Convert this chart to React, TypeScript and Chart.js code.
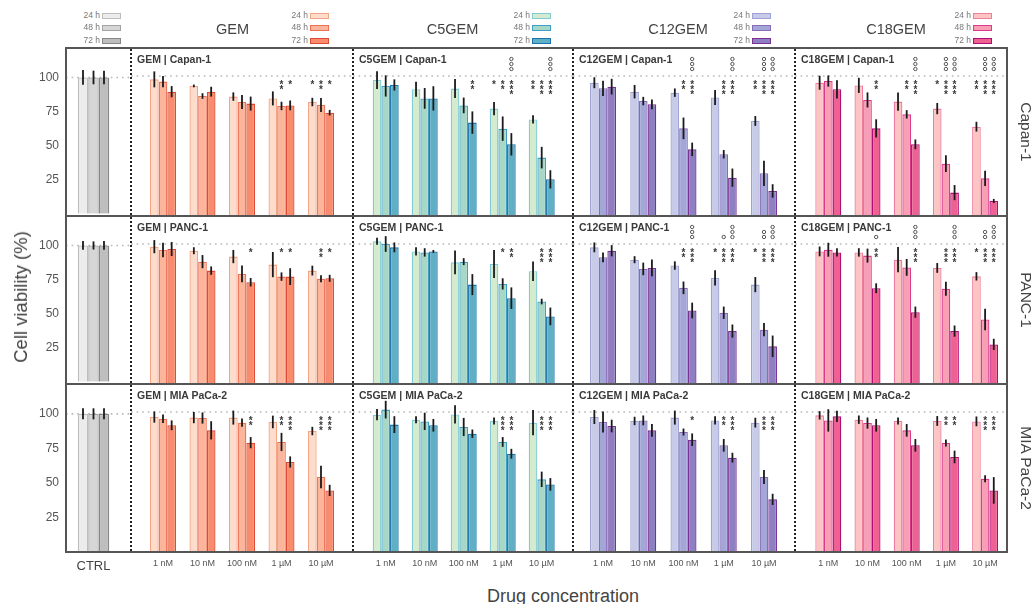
import React, { useEffect, useRef } from 'react';
import { Chart, registerables } from 'chart.js';

Chart.register(...registerables);

// ---------------- data ----------------
const concentrations = ['1 nM', '10 nM', '100 nM', '1 µM', '10 µM'];
const ctrlLabels = ['CTRL'];
const timePoints = ['24 h', '48 h', '72 h'];
const drugs = ['GEM', 'C5GEM', 'C12GEM', 'C18GEM'];
const cellLines = ['Capan-1', 'PANC-1', 'MIA PaCa-2'];
const yTickValues = [25, 50, 75, 100];
const referenceValue = 100;

// control (one value per time point)
const CTRL_MEAN = [100, 100, 100];
const CTRL_CAPAN1_SD = [5.4, 5.0, 5.0];
const CTRL_PANC1_SD = [3.2, 3.0, 3.2];
const CTRL_MIAPACA2_SD = [4.0, 4.0, 4.0];

const NONE = [[0, 0, 0, 0, 0], [0, 0, 0, 0, 0], [0, 0, 0, 0, 0]];

// rows = 24 h, 48 h, 72 h ; columns = concentrations
const GEM_CAPAN1 = [[97.6, 92.9, 85.3, 84.0, 81.4], [96.0, 85.7, 81.4, 78.6, 79.3], [88.8, 88.8, 80.3, 79.0, 73.8]];
const GEM_CAPAN1_SD = [[5.7, 1.0, 3.0, 5.0, 3.0], [4.0, 2.0, 5.0, 3.0, 5.0], [4.0, 3.5, 5.0, 3.5, 2.0]];
const GEM_CAPAN1_STARS = [[0, 0, 0, 0, 1], [0, 0, 0, 2, 2], [0, 0, 0, 1, 1]];

const GEM_PANC1 = [[98.1, 95.2, 91.0, 85.3, 81.0], [95.7, 87.4, 78.6, 76.7, 75.1], [96.4, 81.0, 72.7, 76.7, 75.5]];
const GEM_PANC1_SD = [[4.7, 2.5, 4.7, 9.0, 3.5], [5.2, 4.7, 6.0, 3.0, 2.5], [5.0, 3.0, 3.0, 6.0, 2.5]];
const GEM_PANC1_STARS = [[0, 0, 0, 0, 0], [0, 0, 0, 1, 2], [0, 0, 1, 1, 1]];

const GEM_MIAPACA2 = [[96.4, 96.0, 96.0, 92.9, 86.4], [95.2, 95.7, 92.4, 78.6, 53.6], [90.5, 86.9, 78.1, 64.3, 44.0]];
const GEM_MIAPACA2_SD = [[4.0, 4.0, 5.0, 4.5, 3.0], [3.0, 4.0, 3.0, 6.5, 8.0], [3.5, 6.5, 4.0, 4.0, 4.0]];
const GEM_MIAPACA2_STARS = [[0, 0, 0, 0, 0], [0, 0, 0, 2, 3], [0, 0, 2, 3, 3]];

const C5GEM_CAPAN1 = [[97.1, 90.5, 91.0, 76.7, 69.0], [92.9, 84.0, 79.0, 62.4, 41.7], [93.6, 84.0, 66.7, 51.2, 26.2]];
const C5GEM_CAPAN1_SD = [[6.3, 5.4, 6.8, 4.8, 3.0], [7.6, 7.4, 5.6, 8.7, 7.7], [4.0, 8.7, 8.0, 8.0, 6.5]];
const C5GEM_CAPAN1_STARS = [[0, 0, 0, 1, 2], [0, 0, 0, 2, 3], [0, 0, 2, 3, 3]];
const C5GEM_CAPAN1_CIRCLES = [[0, 0, 0, 0, 0], [0, 0, 0, 0, 0], [0, 0, 0, 3, 3]];

const C5GEM_PANC1 = [[101.9, 94.7, 86.9, 85.8, 80.5], [100.0, 94.0, 87.4, 71.5, 58.9], [97.6, 94.7, 71.0, 61.3, 48.3]];
const C5GEM_PANC1_SD = [[2.5, 3.0, 8.5, 10.0, 7.0], [5.6, 3.0, 2.5, 4.0, 2.0], [3.5, 1.0, 7.5, 7.7, 6.3]];
const C5GEM_PANC1_STARS = [[0, 0, 0, 0, 0], [0, 0, 0, 1, 3], [0, 0, 0, 2, 3]];

const C5GEM_MIAPACA2 = [[98.1, 94.5, 98.3, 93.6, 92.4], [101.7, 93.3, 89.3, 78.6, 51.9], [91.0, 90.5, 84.5, 70.2, 48.3]];
const C5GEM_MIAPACA2_SD = [[4.0, 2.5, 6.5, 2.5, 9.0], [6.3, 6.2, 6.5, 3.5, 5.5], [6.0, 4.5, 3.0, 3.5, 4.5]];
const C5GEM_MIAPACA2_STARS = [[0, 0, 0, 0, 0], [0, 0, 0, 3, 3], [0, 0, 0, 3, 3]];

const C12GEM_CAPAN1 = [[95.2, 88.8, 88.1, 84.6, 67.9], [91.2, 82.1, 62.6, 44.1, 30.5], [92.4, 79.8, 47.6, 27.4, 17.9]];
const C12GEM_CAPAN1_SD = [[3.9, 4.8, 3.0, 5.4, 3.5], [5.4, 3.0, 7.7, 3.0, 9.0], [5.6, 3.5, 4.8, 6.5, 4.8]];
const C12GEM_CAPAN1_STARS = [[0, 0, 0, 0, 2], [0, 0, 2, 3, 3], [0, 0, 3, 3, 3]];
const C12GEM_CAPAN1_CIRCLES = [[0, 0, 0, 0, 0], [0, 0, 0, 0, 3], [0, 0, 3, 3, 3]];

const C12GEM_PANC1 = [[97.6, 88.8, 84.6, 75.8, 71.0], [90.5, 82.2, 68.7, 50.9, 38.8], [95.2, 82.9, 52.5, 37.8, 26.9]];
const C12GEM_PANC1_SD = [[3.5, 2.5, 3.0, 5.4, 5.4], [3.5, 4.5, 4.5, 4.4, 4.7], [4.0, 6.0, 5.6, 4.7, 7.7]];
const C12GEM_PANC1_STARS = [[0, 0, 0, 1, 1], [0, 0, 2, 3, 3], [0, 0, 3, 3, 3]];
const C12GEM_PANC1_CIRCLES = [[0, 0, 0, 0, 0], [0, 0, 0, 1, 2], [0, 0, 3, 3, 3]];

const C12GEM_MIAPACA2 = [[96.4, 93.6, 96.0, 94.0, 92.4], [92.9, 94.0, 85.7, 76.2, 53.6], [90.0, 86.9, 80.2, 67.4, 37.6]];
const C12GEM_MIAPACA2_SD = [[5.0, 3.0, 5.0, 3.0, 3.5], [7.5, 3.5, 2.5, 4.5, 5.0], [4.5, 4.5, 4.5, 3.5, 4.0]];
const C12GEM_MIAPACA2_STARS = [[0, 0, 0, 0, 0], [0, 0, 0, 2, 3], [0, 0, 1, 3, 3]];

const C18GEM_CAPAN1 = [[95.2, 93.3, 81.7, 76.7, 63.8], [96.4, 82.9, 72.6, 37.4, 26.9], [90.5, 62.6, 51.2, 16.7, 10.7]];
const C18GEM_CAPAN1_SD = [[5.0, 5.4, 6.5, 4.0, 3.5], [4.0, 5.4, 3.0, 6.0, 5.4], [6.5, 6.5, 3.5, 5.4, 1.5]];
const C18GEM_CAPAN1_STARS = [[0, 0, 0, 1, 2], [0, 0, 2, 3, 3], [0, 2, 3, 3, 3]];
const C18GEM_CAPAN1_CIRCLES = [[0, 0, 0, 0, 0], [0, 0, 0, 3, 3], [0, 0, 3, 3, 3]];

const C18GEM_PANC1 = [[94.7, 94.0, 88.8, 82.9, 76.9], [95.9, 91.7, 83.3, 68.0, 46.1], [94.0, 68.4, 51.3, 37.8, 28.3]];
const C18GEM_PANC1_SD = [[3.5, 3.0, 9.0, 3.5, 3.0], [5.0, 5.0, 6.0, 5.0, 7.7], [3.0, 3.5, 4.0, 4.0, 4.0]];
const C18GEM_PANC1_STARS = [[0, 0, 0, 0, 1], [0, 0, 0, 3, 3], [0, 2, 3, 3, 3]];
const C18GEM_PANC1_CIRCLES = [[0, 0, 0, 0, 0], [0, 0, 0, 0, 2], [0, 1, 3, 3, 3]];

const C18GEM_MIAPACA2 = [[97.6, 94.5, 93.6, 93.6, 93.3], [94.0, 92.1, 86.9, 77.9, 52.4], [96.9, 90.5, 76.2, 67.9, 44.0]];
const C18GEM_MIAPACA2_SD = [[3.0, 3.0, 2.5, 3.5, 3.5], [8.0, 4.0, 4.5, 2.5, 2.5], [4.0, 4.5, 4.5, 4.5, 9.5]];
const C18GEM_MIAPACA2_STARS = [[0, 0, 0, 0, 0], [0, 0, 0, 2, 3], [0, 0, 0, 2, 3]];

// table built from the arrays above: [cell line][drug]
const PANEL_TABLE = [
  [
    { mean: GEM_CAPAN1, sd: GEM_CAPAN1_SD, stars: GEM_CAPAN1_STARS, circles: NONE },
    { mean: C5GEM_CAPAN1, sd: C5GEM_CAPAN1_SD, stars: C5GEM_CAPAN1_STARS, circles: C5GEM_CAPAN1_CIRCLES },
    { mean: C12GEM_CAPAN1, sd: C12GEM_CAPAN1_SD, stars: C12GEM_CAPAN1_STARS, circles: C12GEM_CAPAN1_CIRCLES },
    { mean: C18GEM_CAPAN1, sd: C18GEM_CAPAN1_SD, stars: C18GEM_CAPAN1_STARS, circles: C18GEM_CAPAN1_CIRCLES },
  ],
  [
    { mean: GEM_PANC1, sd: GEM_PANC1_SD, stars: GEM_PANC1_STARS, circles: NONE },
    { mean: C5GEM_PANC1, sd: C5GEM_PANC1_SD, stars: C5GEM_PANC1_STARS, circles: NONE },
    { mean: C12GEM_PANC1, sd: C12GEM_PANC1_SD, stars: C12GEM_PANC1_STARS, circles: C12GEM_PANC1_CIRCLES },
    { mean: C18GEM_PANC1, sd: C18GEM_PANC1_SD, stars: C18GEM_PANC1_STARS, circles: C18GEM_PANC1_CIRCLES },
  ],
  [
    { mean: GEM_MIAPACA2, sd: GEM_MIAPACA2_SD, stars: GEM_MIAPACA2_STARS, circles: NONE },
    { mean: C5GEM_MIAPACA2, sd: C5GEM_MIAPACA2_SD, stars: C5GEM_MIAPACA2_STARS, circles: NONE },
    { mean: C12GEM_MIAPACA2, sd: C12GEM_MIAPACA2_SD, stars: C12GEM_MIAPACA2_STARS, circles: NONE },
    { mean: C18GEM_MIAPACA2, sd: C18GEM_MIAPACA2_SD, stars: C18GEM_MIAPACA2_STARS, circles: NONE },
  ],
];
const CTRL_SD_TABLE = [CTRL_CAPAN1_SD, CTRL_PANC1_SD, CTRL_MIAPACA2_SD];

// ---------------- styles / layout ----------------
const FONT = "'Liberation Sans', Arial, Helvetica, sans-serif";
const PALETTES = [
  { fill: ['#ececec', '#d6d6d6', '#bebebe'], border: ['#bdbdbd', '#a3a3a3', '#878787'] }, // CTRL
  { fill: ['#fddccc', '#fbb59b', '#f88c6c'], border: ['#f5a486', '#ee7258', '#dd4b35'] }, // GEM
  { fill: ['#d5ebcd', '#a7d8c5', '#5fb0c4'], border: ['#84cbd8', '#3f9fc7', '#1c72ab'] }, // C5GEM
  { fill: ['#c7cbe8', '#a2a7d7', '#8d7fc1'], border: ['#9fa3d3', '#8a6bb7', '#7a3393'] }, // C12GEM
  { fill: ['#fcc5c4', '#f99fb5', '#ef6093'], border: ['#ee7da0', '#da3a8c', '#ae0f72'] }, // C18GEM
];
const COLS = [66, 131, 353, 573, 795, 1007];
const ROWS = [48, 216, 384, 552];
const INSETS = [[0, 10], [12.25, 12.25], [13.2, 11.8], [9.9, 10.9], [13.7, 2.3]];
const GROUP_WIDTH = 26;
const CTRL_GROUP_WIDTH = 31.5;
const X_AXIS_H = 30;
const V_MARGIN = 12;

const decorPlugin: any = {
  id: 'decor',
  beforeDatasetsDraw(chart: any, _a: any, opts: any) {
    const { ctx, chartArea, scales } = chart;
    const y = scales.y.getPixelForValue(referenceValue);
    ctx.save();
    ctx.strokeStyle = '#b8b8b8';
    ctx.lineWidth = 1.6;
    ctx.setLineDash([1.6, 4]);
    ctx.beginPath();
    ctx.moveTo(chartArea.left - opts.extL, y);
    ctx.lineTo(chartArea.right + opts.extR, y);
    ctx.stroke();
    ctx.restore();
  },
  afterDatasetsDraw(chart: any) {
    const { ctx, scales } = chart;
    const ys = scales.y;
    const y100 = ys.getPixelForValue(referenceValue);
    chart.data.datasets.forEach((ds: any, i: number) => {
      const meta = chart.getDatasetMeta(i);
      meta.data.forEach((bar: any, j: number) => {
        const m = ds.data[j];
        const e = ds.errors[j];
        ctx.save();
        ctx.strokeStyle = '#1a1a1a';
        ctx.lineWidth = 1.8;
        ctx.beginPath();
        ctx.moveTo(bar.x, ys.getPixelForValue(m + e));
        ctx.lineTo(bar.x, ys.getPixelForValue(m - e));
        ctx.stroke();
        const ns = ds.stars ? ds.stars[j] : 0;
        ctx.fillStyle = '#3a3a3a';
        ctx.font = `bold 10px ${FONT}`;
        ctx.textAlign = 'center';
        ctx.textBaseline = 'alphabetic';
        for (let k = 0; k < ns; k++) ctx.fillText('*', bar.x, y100 + 12 + k * 5);
        const nc = ds.circles ? ds.circles[j] : 0;
        ctx.strokeStyle = '#555';
        ctx.lineWidth = 1;
        for (let k = 0; k < nc; k++) {
          ctx.beginPath();
          ctx.arc(bar.x, y100 - 7 - k * 5, 1.7, 0, Math.PI * 2);
          ctx.stroke();
        }
        ctx.restore();
      });
    });
  },
};

type PanelSpec = {
  key: string; row: number; col: number; left: number; top: number; w: number; h: number;
  padL: number; padR: number; padT: number; padB: number; catPct: number;
};

function buildPanels(): PanelSpec[] {
  const out: PanelSpec[] = [];
  for (let r = 0; r < 3; r++) {
    for (let c = 0; c < 5; c++) {
      const x0 = COLS[c], x1 = COLS[c + 1];
      const y0 = ROWS[r], y1 = ROWS[r + 1];
      const bottom = r === 2;
      const left = c === 0 ? 0 : Math.floor(x0 - 3);
      const right = Math.ceil(x1 + 3);
      const top = Math.floor(y0 - V_MARGIN);
      const bot = bottom ? Math.ceil(y1 + X_AXIS_H) : Math.ceil(y1 + V_MARGIN);
      const [iL, iR] = INSETS[c];
      const areaL = x0 + iL, areaR = x1 - iR;
      const padL = c === 0 ? 0 : areaL - left;
      const padR = right - areaR;
      const nCats = c === 0 ? 1 : concentrations.length;
      const catW = (areaR - areaL) / nCats;
      const catPct = (c === 0 ? CTRL_GROUP_WIDTH : GROUP_WIDTH) / catW;
      out.push({
        key: `${r}-${c}`, row: r, col: c, left, top, w: right - left, h: bot - top,
        padL, padR, padT: y0 - top, padB: bottom ? 0 : bot - y1, catPct,
      });
    }
  }
  return out;
}
const PANELS = buildPanels();

function makeConfig(p: PanelSpec): any {
  const isCtrl = p.col === 0;
  const isBottom = p.row === 2;
  const pal = PALETTES[p.col];
  const d = isCtrl ? null : PANEL_TABLE[p.row][p.col - 1];
  const datasets = timePoints.map((t, ti) => ({
    label: t,
    data: isCtrl ? [CTRL_MEAN[ti]] : d!.mean[ti],
    errors: isCtrl ? [CTRL_SD_TABLE[p.row][ti]] : d!.sd[ti],
    stars: isCtrl ? null : d!.stars[ti],
    circles: isCtrl ? null : d!.circles[ti],
    backgroundColor: pal.fill[ti],
    borderColor: pal.border[ti],
    borderWidth: 1.3,
    categoryPercentage: p.catPct,
    barPercentage: 1,
  }));
  const [iL, iR] = INSETS[p.col];
  return {
    type: 'bar',
    data: { labels: isCtrl ? ctrlLabels : concentrations, datasets },
    options: {
      responsive: false,
      animation: false,
      devicePixelRatio: 1,
      events: [],
      layout: { padding: { left: p.padL, right: p.padR, top: p.padT, bottom: p.padB } },
      plugins: {
        legend: { display: false },
        tooltip: { enabled: false },
        title: { display: false },
        decor: { extL: isCtrl ? 0 : iL, extR: iR },
      },
      scales: {
        x: {
          display: isBottom,
          grid: { display: false, drawTicks: false },
          border: { display: false },
          ticks: {
            autoSkip: false, maxRotation: 0, color: isCtrl ? '#444' : '#555',
            padding: isCtrl ? 7 : 6.5,
            font: { family: FONT, size: isCtrl ? 13 : 9 },
          },
          afterFit: isBottom ? (s: any) => { s.height = X_AXIS_H; } : undefined,
        },
        y: {
          display: isCtrl,
          min: 0,
          max: 120,
          grid: { display: false, drawTicks: false },
          border: { display: false },
          ticks: { color: '#555', padding: 7, font: { family: FONT, size: 12 } },
          afterBuildTicks: (s: any) => { s.ticks = yTickValues.map((v) => ({ value: v })); },
          afterFit: isCtrl ? (s: any) => { s.width = COLS[0]; } : undefined,
        },
      },
    },
    plugins: [decorPlugin],
  };
}

const LEGEND_X = [102, 310, 532, 752, 973];
const HEADER_X = [232.5, 452.5, 678, 896];
const LEGEND_Y = [12.5, 25, 37.5];

function Legend({ idx }: { idx: number }) {
  const pal = PALETTES[idx];
  return (
    <>
      {timePoints.map((t, i) => (
        <React.Fragment key={t}>
          <div style={{ position: 'absolute', left: LEGEND_X[idx] - 40, width: 38, top: LEGEND_Y[i] - 3, textAlign: 'right', fontSize: 8.5, lineHeight: '11px', color: '#777' }}>{t}</div>
          <div style={{ position: 'absolute', left: LEGEND_X[idx], top: LEGEND_Y[i], width: 19, height: 6, boxSizing: 'border-box', background: pal.fill[i], border: `1.5px solid ${pal.border[i]}` }} />
        </React.Fragment>
      ))}
    </>
  );
}

export default function App() {
  const refs = useRef<(HTMLCanvasElement | null)[]>([]);
  useEffect(() => {
    const charts: Chart[] = [];
    PANELS.forEach((p, i) => {
      const cv = refs.current[i];
      if (cv) charts.push(new Chart(cv, makeConfig(p)));
    });
    return () => charts.forEach((c) => c.destroy());
  }, []);

  const lineColor = '#555';
  return (
    <div style={{ position: 'fixed', left: 0, top: 0, width: 1036, height: 604, background: '#fff', overflow: 'hidden', fontFamily: FONT }}>
      {PANELS.map((p, i) => (
        <canvas key={p.key} ref={(el) => { refs.current[i] = el; }} width={p.w} height={p.h}
          style={{ position: 'absolute', left: p.left, top: p.top, width: p.w, height: p.h }} />
      ))}
      {/* frame */}
      {ROWS.map((y) => (
        <div key={`h${y}`} style={{ position: 'absolute', left: COLS[0] - 1, top: y - 1, width: COLS[5] - COLS[0] + 2, height: 2, background: lineColor }} />
      ))}
      <div style={{ position: 'absolute', left: COLS[0] - 1, top: ROWS[0] - 1, width: 2, height: ROWS[3] - ROWS[0] + 2, background: lineColor }} />
      <div style={{ position: 'absolute', left: COLS[5] - 1, top: ROWS[0] - 1, width: 2, height: ROWS[3] - ROWS[0] + 2, background: lineColor }} />
      {COLS.slice(1, 5).map((x) => (
        <div key={x} style={{ position: 'absolute', left: x - 1, top: ROWS[0] + 1, width: 0, height: ROWS[3] - ROWS[0] - 2, borderLeft: '2px dotted #222' }} />
      ))}
      {/* panel titles */}
      {cellLines.map((cl, r) => drugs.map((dg, c) => (
        <div key={`${r}-${c}`} style={{ position: 'absolute', left: COLS[c + 1] + 6, top: ROWS[r] + 5, fontSize: 10.5, fontWeight: 'bold', color: '#3a3a3a', whiteSpace: 'nowrap', lineHeight: '12px' }}>
          {dg} | {cl}
        </div>
      )))}
      {/* column headers and legends */}
      {drugs.map((dg, c) => (
        <div key={dg} style={{ position: 'absolute', left: HEADER_X[c], top: 28.7, transform: 'translate(-50%,-50%)', fontSize: 14.5, color: '#444', whiteSpace: 'nowrap' }}>{dg}</div>
      ))}
      {[0, 1, 2, 3, 4].map((i) => <Legend key={i} idx={i} />)}
      {/* row labels */}
      {cellLines.map((cl, r) => (
        <div key={cl} style={{ position: 'absolute', left: 1026, top: (ROWS[r] + ROWS[r + 1]) / 2, transform: 'translate(-50%,-50%) rotate(90deg)', fontSize: 15.5, color: '#444', whiteSpace: 'nowrap' }}>{cl}</div>
      ))}
      {/* axis titles */}
      <div style={{ position: 'absolute', left: 21, top: 297, transform: 'translate(-50%,-50%) rotate(-90deg)', fontSize: 18.5, color: '#444', whiteSpace: 'nowrap' }}>Cell viability (%)</div>
      <div style={{ position: 'absolute', left: 563, top: 596, transform: 'translate(-50%,-50%)', fontSize: 18, color: '#444', whiteSpace: 'nowrap', lineHeight: '20px' }}>Drug concentration</div>
    </div>
  );
}
